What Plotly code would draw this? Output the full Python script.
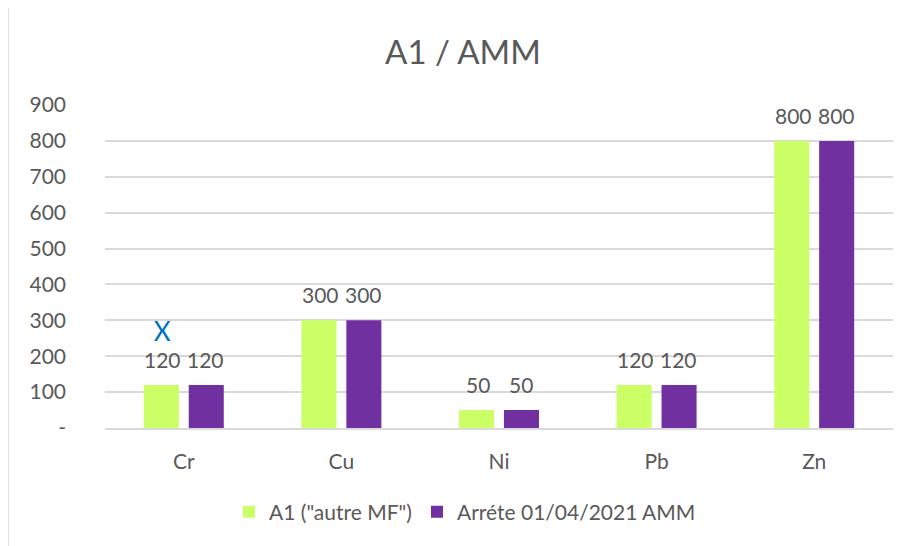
import plotly.graph_objects as go

categories = ["Cr", "Cu", "Ni", "Pb", "Zn"]
a1_values = [120, 300, 50, 120, 800]
amm_values = [120, 300, 50, 120, 800]
series_names = ['A1 ("autre MF")', "Arréte 01/04/2021 AMM"]
y_tickvals = [0, 100, 200, 300, 400, 500, 600, 700, 800, 900]
y_ticktext = ["-", "100", "200", "300", "400", "500", "600", "700", "800", "900"]
marker_category = "Cr"  # blue "X" mark drawn above this category's first bar

FONT = "Lato, 'Noto Sans', sans-serif"
GREY = "#595959"

fig = go.Figure()
fig.add_trace(go.Bar(
    x=categories, y=a1_values, name=series_names[0],
    marker=dict(color="#CCFF66", line=dict(width=0)),
))
fig.add_trace(go.Bar(
    x=categories, y=amm_values, name=series_names[1],
    marker=dict(color="#7030A0", line=dict(width=0)),
))

# data labels above each bar (the blue X sits above the Cr label of the first series)
for si, (vals, dx) in enumerate(((a1_values, -21), (amm_values, 22))):
    for c, v in zip(categories, vals):
        txt = str(v)
        if si == 0 and c == marker_category:
            txt = "<span style='color:#0070C0;font-size:26px'>X</span><br>" + txt
        fig.add_annotation(x=c, y=v, xref="x", yref="y", text=txt, showarrow=False,
                           yanchor="bottom", yshift=11, xshift=dx,
                           font=dict(family=FONT, size=21, color=GREY))

# page body has an 8px offset; compensate so plot lands where the reference has it
OFF = 8
W, H = 912, 546
pw, ph = 788, 323
L = 105 - OFF
T = 105 - OFF
R = W - L - pw
B = H - T - ph
fx0 = (8 - 105) / pw
fx1 = 1 + 40 / pw
fy1 = (428 - 7) / ph
fy0 = -(B + 10) / ph
fig.add_shape(type="rect", xref="paper", yref="paper", x0=fx0, x1=fx1, y0=fy0, y1=fy1,
              line=dict(color="#D9D9D9", width=1.5), layer="below")

fig.update_layout(
    width=W, height=H,
    margin=dict(l=L, r=R, t=T, b=B),
    paper_bgcolor="white", plot_bgcolor="white",
    barmode="group", bargap=0.43, bargroupgap=0.22,
    title=dict(text="A1 / AMM", x=(463 - OFF) / W, xanchor="center", y=1 - (52 - OFF) / H,
               yanchor="middle", yref="container",
               font=dict(family=FONT, size=33, color=GREY)),
    font=dict(family=FONT, color=GREY),
    showlegend=True,
    legend=dict(orientation="h", x=(465 - 105) / pw, xanchor="center",
                y=-(512 - 428) / ph, yanchor="middle",
                font=dict(family=FONT, size=21, color=GREY), itemwidth=30,
                traceorder="normal"),
    xaxis=dict(showline=True, linecolor="#D9D9D9", linewidth=1.5, showgrid=False,
               ticks="outside", ticklen=14, tickcolor="rgba(0,0,0,0)",
               tickfont=dict(family=FONT, size=21, color=GREY)),
    yaxis=dict(range=[0, 900], tickvals=y_tickvals, ticktext=y_ticktext,
               showgrid=True, gridcolor="#D9D9D9", gridwidth=1.5, zeroline=False,
               showline=False, ticklabelstandoff=38,
               tickfont=dict(family=FONT, size=21, color=GREY)),
)

fig.write_html("out.html")
